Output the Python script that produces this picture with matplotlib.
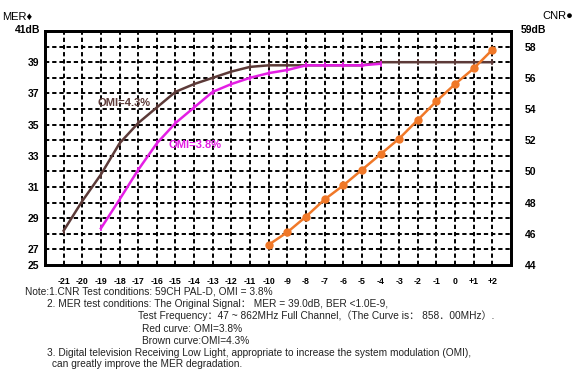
import matplotlib.pyplot as plt
import numpy as np

plt.rcParams['font.family'] = ['Liberation Sans', 'DejaVu Sans', 'Noto Sans CJK SC']

# CNR (dB) on x, MER (dB) on left axis, CNR curve on right axis
x_ticks = list(range(-21, 3))
x_labels = ["-21", "-20", "-19", "-18", "-17", "-16", "-15", "-14", "-13", "-12", "-11",
            "-10", "-9", "-8", "-7", "-6", "-5", "-4", "-3", "-2", "-1", "0", "+1", "+2"]

brown_x = [-21, -20, -19, -18, -17, -16, -15, -14, -13, -12, -11, -10, -9, -8, -7, -6, -5, -4, -3, -2, -1, 0, 1, 2]
brown_y = [28.2, 30.1, 31.8, 33.8, 35.1, 36.1, 37.1, 37.6, 38.0, 38.4, 38.7, 38.8, 38.8, 38.8,
           38.8, 38.8, 38.8, 39.0, 39.0, 39.0, 39.0, 39.0, 39.0, 39.0]

magenta_x = [-19, -18, -17, -16, -15, -14, -13, -12, -11, -10, -9, -8, -7, -6, -5, -4]
magenta_y = [28.35, 30.2, 32.1, 33.8, 35.1, 36.1, 37.1, 37.6, 38.0, 38.3, 38.5, 38.8, 38.8, 38.8, 38.8, 38.9]

cnr_x = [-10, -9, -8, -7, -6, -5, -4, -3, -2, -1, 0, 1, 2]
cnr_y = [45.3, 46.1, 47.1, 48.2, 49.1, 50.1, 51.1, 52.1, 53.3, 54.5, 55.6, 56.6, 57.8]

left_ticks = [26, 27, 29, 31, 33, 35, 37, 39, 41]
left_labels = ["25", "27", "29", "31", "33", "35", "37", "39", ""]
right_ticks = [44, 46, 48, 50, 52, 54, 56, 58]

brown = "#5c3a38"
magenta = "#e41ee4"
orange = "#f07828"

fig = plt.figure(figsize=(5.84, 3.81), dpi=100)
ax = fig.add_axes([45 / 584, 1 - 265 / 381, 466 / 584, 234 / 381])
ax.set_xlim(-22, 3)
ax.set_ylim(26, 41)

for v in x_ticks:
    ax.axvline(v, color="black", lw=1.4, ls=(0, (2.2, 1.5)), zorder=1)
for v in range(27, 41):
    ax.axhline(v, color="black", lw=1.4, ls=(0, (2.2, 1.5)), zorder=1)

ax.plot(brown_x, brown_y, color=brown, lw=1.8, marker="|", ms=4, mew=1.2, zorder=3)
ax.plot(magenta_x, magenta_y, color=magenta, lw=1.8, marker="|", ms=4, mew=1.2, zorder=4)

ax.set_xticks(x_ticks)
ax.set_xticklabels(x_labels, fontsize=6.3, fontweight="bold")
ax.set_yticks(left_ticks)
ax.set_yticklabels(left_labels, fontsize=7.5, fontweight="bold")
ax.tick_params(length=0, pad=4)
ax.tick_params(axis="x", pad=9)
for s in ax.spines.values():
    s.set_linewidth(2)

ax2 = ax.twinx()
ax2.set_ylim(44, 59)
ax2.plot(cnr_x, cnr_y, color=orange, lw=1.8, marker="o", ms=5, zorder=5)
ax2.set_yticks(right_ticks)
ax2.set_yticklabels([str(t) for t in right_ticks], fontsize=7.5, fontweight="bold")
ax2.tick_params(length=0, pad=10)
for s in ax2.spines.values():
    s.set_linewidth(2)

ax.text(-17.75, 36.4, "OMI=4.3%", color=brown, fontsize=8, fontweight="bold",
        ha="center", va="center", zorder=6)
ax.text(-13.95, 33.7, "OMI=3.8%", color=magenta, fontsize=8, fontweight="bold",
        ha="center", va="center", zorder=6)

fig.text(2 / 584, 1 - 17 / 381, "MER\u2666", fontsize=8, va="center", ha="left")
fig.text(40 / 584, 1 - 30 / 381, "41dB", fontsize=7.5, fontweight="bold", va="center", ha="right")
fig.text(573 / 584, 1 - 16 / 381, "CNR\u25cf", fontsize=8, va="center", ha="right")
fig.text(521 / 584, 1 - 30 / 381, "59dB", fontsize=7.5, fontweight="bold", va="center", ha="left")

notes = [
    (25, 292, "Note:1.CNR Test conditions: 59CH PAL-D, OMI = 3.8%"),
    (47, 304, "2. MER test conditions: The Original Signal\uff1a MER = 39.0dB, BER <1.0E-9,"),
    (138, 316, "Test Frequency\uff1a47 ~ 862MHz Full Channel,\uff08The Curve is\uff1a 858\uff0e00MHz\uff09."),
    (142, 329, "Red curve: OMI=3.8%"),
    (142, 341, "Brown curve:OMI=4.3%"),
    (47, 353, "3. Digital television Receiving Low Light, appropriate to increase the system modulation (OMI),"),
    (52, 364, "can greatly improve the MER degradation."),
]
note_font = ['Liberation Sans Narrow', 'Liberation Sans', 'Noto Sans CJK SC']
for nx, ny, t in notes:
    fig.text(nx / 584, 1 - ny / 381, t, fontsize=7.3, va="center", ha="left",
             color="#222222", family=note_font)

fig.savefig("out.png", dpi=100)
